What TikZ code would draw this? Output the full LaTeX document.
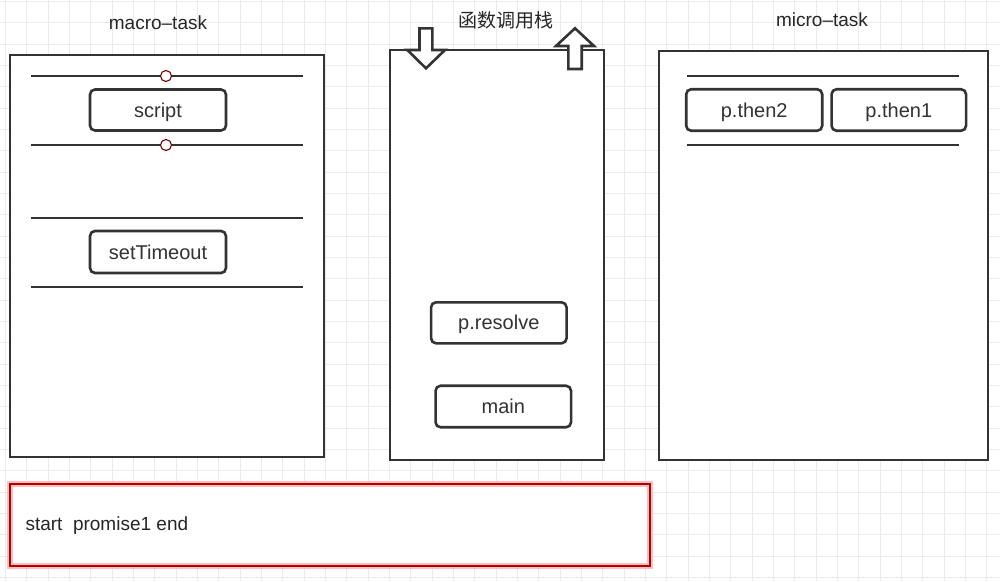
\documentclass[tikz,border=0pt]{standalone}
\usepackage{fontspec}
\setmainfont{Liberation Sans}
\newfontfamily\cjkfont{Noto Sans CJK SC}
\begin{document}
\begin{tikzpicture}[x=1pt,y=-1pt,
  gridline/.style={draw=black!8,line width=0.8pt},
  panel/.style={draw=black!80,line width=2.8pt,fill=white},
  sep/.style={draw=black!80,line width=2.8pt},
  task/.style={draw=black!80,line width=2.6pt,rounded corners=5pt,fill=white,
    text=black!80,font=\fontsize{20}{23}\selectfont,text height=14pt,text depth=0pt},
  title/.style={text=black!85,font=\fontsize{19}{22}\selectfont},
  knob/.style={circle,draw=red!45!black,fill=white,line width=1.1pt,minimum size=11pt,inner sep=0pt},
  bigarrow/.style={draw=black!80,line width=2.6pt,fill=white,line join=miter}
]
\useasboundingbox (0,0) rectangle (1000,581);
\fill[white] (0,0) rectangle (1000,581);
% background grid
\foreach \i in {0,...,46} {\draw[gridline] (5.4+21.333*\i,0) -- (5.4+21.333*\i,581);}
\foreach \j in {0,...,27} {\draw[gridline] (0,1.3+21.333*\j) -- (1000,1.3+21.333*\j);}

% macro-task panel
\node[title] (tmacro) at (158,23) {macro–task};
\draw[panel] (10,55) rectangle (324,457);
\coordinate (m1a) at (31,76);  \coordinate (m1b) at (303,76);
\coordinate (m2a) at (31,145); \coordinate (m2b) at (303,145);
\coordinate (m3a) at (31,218); \coordinate (m3b) at (303,218);
\coordinate (m4a) at (31,287); \coordinate (m4b) at (303,287);
\draw[sep] (m1a) -- (m1b);
\draw[sep] (m2a) -- (m2b);
\draw[sep] (m3a) -- (m3b);
\draw[sep] (m4a) -- (m4b);
\node[knob] (k1) at (166,76) {};
\node[knob] (k2) at (166,145) {};
\node[task,minimum width=136pt,minimum height=41pt] (script) at (158,110) {script};
\node[task,minimum width=136pt,minimum height=42pt] (settimeout) at (158,252) {setTimeout};

% call stack panel
\node[title] (tstack) at (506,20) {\cjkfont 函数调用栈};
\draw[panel] (390,50) rectangle (604,460);
\draw[bigarrow] (419.5,28.3) -- (432.3,28.3) -- (432.3,50) -- (445,50) -- (426,68.3)
  -- (407.3,50) -- (419.5,50) -- cycle;
\draw[bigarrow] (568.3,69) -- (581.7,69) -- (581.7,46) -- (594,46) -- (575,28.3)
  -- (556,46) -- (568.3,46) -- cycle;
\node[task,minimum width=135.5pt,minimum height=41pt] (presolve) at (498.8,322.8) {p.resolve};
\node[task,minimum width=135.5pt,minimum height=41.5pt] (main) at (503.3,406.5) {main};

% micro-task panel
\node[title] (tmicro) at (822,20) {micro–task};
\draw[panel] (659,51) rectangle (988,460);
\coordinate (u1a) at (687,76);  \coordinate (u1b) at (959,76);
\coordinate (u2a) at (687,145); \coordinate (u2b) at (959,145);
\draw[sep] (u1a) -- (u1b);
\draw[sep] (u2a) -- (u2b);
\node[task,minimum width=136pt,minimum height=41.5pt] (pthen2) at (754.2,110) {p.then2};
\node[task,minimum width=134.5pt,minimum height=41.5pt] (pthen1) at (898.8,110) {p.then1};

% output console
\draw[draw=red!25,line width=5.5pt,fill=white] (10,484) rectangle (650,566);
\draw[draw=red!70!black,line width=2.4pt] (10,484) rectangle (650,566);
\node[anchor=west,text=black!85,font=\fontsize{19}{22}\selectfont] (out) at (22,526) {start\ \ promise1 end};
\end{tikzpicture}
\end{document}
